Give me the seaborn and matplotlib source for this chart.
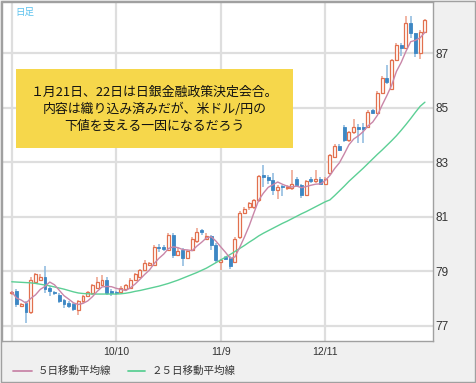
import numpy as np
import pandas as pd
import matplotlib
matplotlib.use("Agg")
import matplotlib.pyplot as plt
from matplotlib.patches import Rectangle
from matplotlib.lines import Line2D
import seaborn as sns

# ---- data ----
opens = [78.20, 78.30, 77.75, 77.85, 77.50, 78.60, 78.70, 78.80, 78.40, 78.25,
         78.15, 77.95, 77.85, 77.80, 77.60, 77.90, 78.10, 78.20, 78.40, 78.50,
         78.70, 78.30, 78.25, 78.25, 78.35, 78.40, 78.70, 78.80, 79.05, 79.25,
         79.25, 79.90, 79.87, 79.80, 80.33, 79.60, 79.80, 79.50, 79.80, 80.10,
         80.50, 80.20, 80.30, 79.97, 79.35, 79.50, 79.50, 79.35, 80.25, 81.15,
         81.35, 81.35, 81.60, 82.55, 82.45, 82.35, 82.00, 82.12, 82.05, 82.05,
         82.40, 82.15, 81.80, 82.37, 82.30, 82.40, 82.20, 82.60, 83.20, 83.60,
         84.30, 83.80, 84.10, 84.30, 84.30, 84.30, 84.90, 84.80, 85.55, 86.10,
         85.70, 86.75, 87.30, 87.20, 88.10, 87.73, 87.00, 87.77]
highs = [78.30, 78.35, 77.85, 77.90, 78.80, 78.95, 78.90, 79.20, 78.45, 78.30,
         78.20, 78.00, 77.90, 77.85, 77.95, 78.15, 78.30, 78.55, 78.80, 78.85,
         78.80, 78.35, 78.30, 78.45, 78.55, 78.75, 78.95, 79.10, 79.40, 79.35,
         79.95, 80.00, 79.95, 80.40, 80.40, 79.85, 79.85, 79.80, 80.25, 80.60,
         80.55, 80.40, 80.35, 80.05, 79.45, 79.55, 79.55, 80.25, 81.20, 81.35,
         81.55, 81.65, 82.55, 82.90, 82.55, 82.60, 82.15, 82.15, 82.15, 82.70,
         82.45, 82.20, 82.35, 82.45, 82.70, 82.45, 82.45, 83.30, 83.65, 83.65,
         84.35, 84.15, 84.60, 84.40, 84.45, 84.90, 84.95, 85.60, 86.15, 86.56,
         86.80, 87.35, 87.35, 88.35, 88.35, 87.75, 87.85, 88.25]
lows = [78.15, 77.70, 77.70, 77.10, 77.45, 78.55, 78.65, 78.20, 78.10, 78.15,
        77.85, 77.65, 77.65, 77.55, 77.40, 77.85, 78.05, 78.15, 78.35, 78.45,
        78.15, 78.10, 78.15, 78.20, 78.30, 78.35, 78.65, 78.75, 79.00, 79.20,
        79.20, 79.70, 79.75, 79.75, 79.50, 79.55, 79.20, 79.45, 79.75, 80.05,
        80.35, 80.15, 79.80, 79.30, 79.05, 79.40, 79.10, 79.30, 80.20, 81.10,
        81.25, 81.30, 81.55, 82.10, 82.20, 81.80, 81.65, 81.75, 82.00, 82.00,
        82.10, 81.70, 81.75, 82.25, 82.25, 82.15, 82.15, 82.55, 83.15, 83.40,
        83.75, 83.75, 84.05, 83.70, 83.70, 84.25, 84.75, 84.75, 85.50, 85.85,
        85.65, 86.70, 86.90, 87.15, 87.55, 86.85, 86.80, 87.72]
closes = [78.25, 77.80, 77.80, 77.50, 78.70, 78.90, 78.80, 78.35, 78.30, 78.20,
          77.90, 77.80, 77.72, 77.62, 77.90, 78.10, 78.25, 78.50, 78.60, 78.70,
          78.20, 78.20, 78.20, 78.40, 78.50, 78.70, 78.90, 79.05, 79.30, 79.30,
          79.90, 79.85, 79.82, 80.33, 79.60, 79.75, 79.50, 79.75, 80.20, 80.45,
          80.45, 80.30, 79.95, 79.40, 79.40, 79.45, 79.20, 80.20, 81.15, 81.30,
          81.50, 81.60, 82.50, 82.45, 82.35, 81.98, 82.10, 82.08, 82.10, 82.20,
          82.15, 81.80, 82.30, 82.33, 82.40, 82.20, 82.40, 83.25, 83.60, 83.45,
          83.80, 84.10, 84.30, 84.20, 84.20, 84.85, 84.80, 85.55, 86.08, 85.95,
          86.75, 87.30, 87.20, 88.10, 87.73, 87.00, 87.77, 88.20]
ma25 = [78.62, 78.61, 78.60, 78.59, 78.58, 78.56, 78.53, 78.50, 78.47, 78.43,
        78.39, 78.35, 78.30, 78.25, 78.21, 78.19, 78.18, 78.17, 78.17, 78.17,
        78.17, 78.17, 78.17, 78.18, 78.20, 78.23, 78.27, 78.30, 78.34, 78.38,
        78.42, 78.46, 78.51, 78.56, 78.62, 78.68, 78.75, 78.82, 78.89, 78.96,
        79.04, 79.12, 79.22, 79.32, 79.42, 79.52, 79.62, 79.73, 79.84, 79.95,
        80.07, 80.18, 80.30, 80.40, 80.49, 80.58, 80.67, 80.76, 80.84, 80.93,
        81.02, 81.11, 81.19, 81.28, 81.37, 81.46, 81.55, 81.62, 81.78, 81.95,
        82.12, 82.30, 82.46, 82.62, 82.78, 82.95, 83.12, 83.29, 83.45, 83.62,
        83.79, 83.97, 84.17, 84.38, 84.60, 84.83, 85.05, 85.20]
tick_pos = [0, 22, 44, 66]
tick_labels = ["", "10/10", "11/9", "12/11"]
y_ticks = [77, 79, 81, 83, 85, 87]
ma5_label = "５日移動平均線"
ma25_label = "２５日移動平均線"
note_lines = ["１月21日、22日は日銀金融政策決定会合。",
              "内容は織り込み済みだが、米ドル/円の",
              "下値を支える一因になるだろう"]

df = pd.DataFrame({"open": opens, "high": highs, "low": lows, "close": closes, "ma25": ma25})
df["idx"] = np.arange(len(df))
df["ma5"] = df["close"].rolling(5, min_periods=1).mean()

sns.set_theme(style="white")
plt.rcParams["font.family"] = ["Noto Sans CJK JP", "DejaVu Sans"]

W, H = 476, 383
fig = plt.figure(figsize=(W / 100, H / 100), dpi=100, facecolor="#f0f0f0")
ax = fig.add_axes([2 / W, 42 / H, 431 / W, 339 / H])
ax.set_facecolor("white")

UP_EDGE = "#e2704e"
UP_WICK = "#eea08a"
DN_BODY = "#3d87c4"
DN_WICK = "#8ab8de"

up = df["close"] >= df["open"]
dn = ~up
# wicks
ax.vlines(df.loc[up, "idx"], df.loc[up, "low"], df.loc[up, "high"], color=UP_WICK, lw=1.1, zorder=2)
ax.vlines(df.loc[dn, "idx"], df.loc[dn, "low"], df.loc[dn, "high"], color=DN_WICK, lw=1.1, zorder=2)
# bodies
bottoms = np.minimum(df["open"], df["close"])
heights = np.maximum((df["close"] - df["open"]).abs(), 0.06)
ax.bar(df.loc[up, "idx"], heights[up], bottom=bottoms[up], width=0.62,
       facecolor="white", edgecolor=UP_EDGE, linewidth=0.9, zorder=3)
ax.bar(df.loc[dn, "idx"], heights[dn], bottom=bottoms[dn], width=0.62,
       facecolor=DN_BODY, edgecolor=DN_BODY, linewidth=0.6, zorder=3)

MA5_C = "#c986a8"
MA25_C = "#5ccf95"
sns.lineplot(data=df, x="idx", y="ma25", ax=ax, color=MA25_C, lw=1.0, zorder=4, legend=False)
sns.lineplot(data=df, x="idx", y="ma5", ax=ax, color=MA5_C, lw=1.0, zorder=5, legend=False)

ax.set_xlim(-2.05, 88.7)
ax.set_ylim(76.45, 88.87)
ax.set_xlabel("")
ax.set_ylabel("")
ax.set_xticks(tick_pos)
ax.set_xticklabels(tick_labels)
ax.set_yticks(y_ticks)
ax.set_yticklabels([str(v) for v in y_ticks])
ax.yaxis.tick_right()
ax.tick_params(axis="y", length=0, pad=2, labelsize=8.5, colors="#333333")
ax.tick_params(axis="x", length=0, pad=4, labelsize=7.5, colors="#333333")
for lab in ax.get_yticklabels() + ax.get_xticklabels():
    lab.set_family(["Liberation Sans", "DejaVu Sans"])
ax.grid(True, color="#dedede", lw=1.6, zorder=0)
ax.set_axisbelow(True)
for s in ax.spines.values():
    s.set_color("#a0a0a0")
    s.set_linewidth(1.0)

# top-left label
ax.text(13 / 431, 1 - 10 / 339, "日足", transform=ax.transAxes, fontsize=6.8,
        color="#5cc2ee", ha="left", va="center", zorder=6)

# annotation box
bx0, bx1 = 16, 293
by0, by1 = 69, 148
fig.add_artist(Rectangle((bx0 / W, 1 - by1 / H), (bx1 - bx0) / W, (by1 - by0) / H,
                         transform=fig.transFigure, facecolor="#f6d74b", edgecolor="none", zorder=10))
for txt, yy in zip(note_lines, [92, 109, 126]):
    fig.text(154.5 / W, 1 - yy / H, txt, ha="center", va="center", fontsize=9.3,
             color="#111111", zorder=11)

# legend
ly = 1 - 371 / H
fig.add_artist(Line2D([13 / W, 32 / W], [ly, ly], color=MA5_C, lw=1.3, transform=fig.transFigure))
fig.text(38 / W, ly, ma5_label, fontsize=7.6, color="#333333", ha="left", va="center")
fig.add_artist(Line2D([128 / W, 145 / W], [ly, ly], color=MA25_C, lw=1.3, transform=fig.transFigure))
fig.text(152 / W, ly, ma25_label, fontsize=7.6, color="#333333", ha="left", va="center")

# outer border
fig.add_artist(Rectangle((0.5 / W, 1.5 / H), (W - 1.5) / W, (H - 2.5) / H, transform=fig.transFigure,
                         fill=False, edgecolor="#a0a0a0", lw=1.0))

fig.savefig("out.png", dpi=100, facecolor=fig.get_facecolor())
